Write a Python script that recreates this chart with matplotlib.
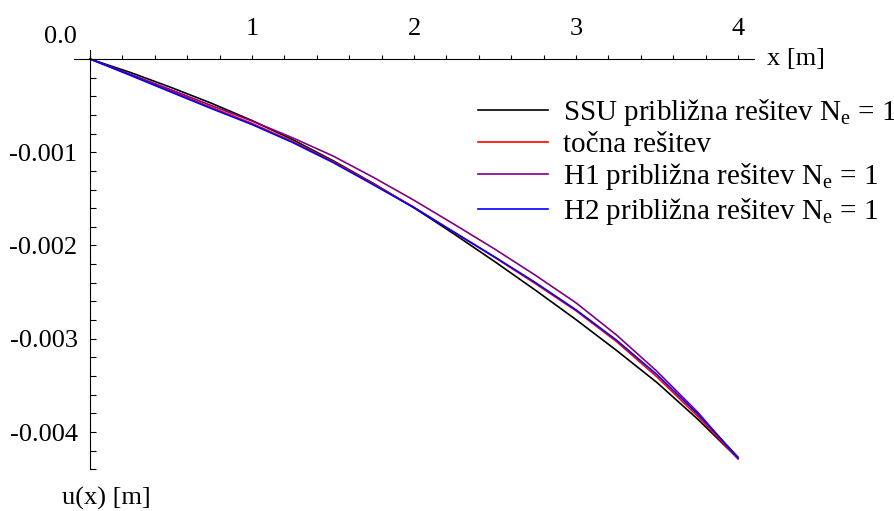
import matplotlib
matplotlib.use("Agg")
import matplotlib.pyplot as plt
from matplotlib.ticker import MultipleLocator

plt.rcParams["font.family"] = ["Liberation Serif", "DejaVu Serif"]
plt.rcParams["mathtext.fontset"] = "custom"
plt.rcParams["mathtext.rm"] = "Liberation Serif"
plt.rcParams["mathtext.it"] = "Liberation Serif:italic"
plt.rcParams["axes.unicode_minus"] = False

# Values (x in m, u in m).
x = [0.0, 0.25, 0.5, 0.75, 1.0, 1.25, 1.5, 1.75, 2.0,
     2.25, 2.5, 2.75, 3.0, 3.25, 3.5, 3.75, 4.0]

u_ssu = [0.0, -0.000145, -0.000305, -0.000475, -0.000660, -0.000865,
         -0.001090, -0.001335, -0.001595, -0.001880, -0.002175, -0.002480,
         -0.002795, -0.003125, -0.003470, -0.003860, -0.004285]

u_exact = [0.0, -0.000170, -0.000345, -0.000520, -0.000690, -0.000885,
           -0.001100, -0.001340, -0.001590, -0.001860, -0.002130, -0.002410,
           -0.002700, -0.003030, -0.003410, -0.003830, -0.004285]

u_h1 = [0.0, -0.000165, -0.000330, -0.000500, -0.000665, -0.000845,
        -0.001040, -0.001270, -0.001515, -0.001775, -0.002040, -0.002320,
        -0.002615, -0.002960, -0.003350, -0.003785, -0.004285]

u_h2 = [0.0, -0.000176, -0.000355, -0.000532, -0.000703, -0.000895,
        -0.001110, -0.001350, -0.001595, -0.001860, -0.002125, -0.002398,
        -0.002690, -0.003015, -0.003385, -0.003805, -0.004270]

x_ticks = [1, 2, 3, 4]
y_ticks = [-0.004, -0.003, -0.002, -0.001]
y_labels = ["-0.004", "-0.003", "-0.002", "-0.001"]

labels = ["SSU približna rešitev N$_\\mathrm{e}$ = 1",
          "točna rešitev",
          "H1 približna rešitev N$_\\mathrm{e}$ = 1",
          "H2 približna rešitev N$_\\mathrm{e}$ = 1"]
colors = ["black", "#ff0000", "#800080", "#0000ff"]

fs = 19
fs_leg = 21

fig = plt.figure(figsize=(8.95, 5.11), dpi=100)
ax = fig.add_axes([0.0825, 0.0816, 0.7602, 0.8212])

for u, lab, col in zip([u_ssu, u_exact, u_h1, u_h2], labels, colors):
    ax.plot(x, u, color=col, linewidth=1.2, label=lab)

ax.set_xlim(-0.1, 4.1)
ax.set_ylim(-0.0044, 0.0001)

# Maple style axes crossing at the origin
ax.spines["right"].set_visible(False)
ax.spines["bottom"].set_visible(False)
ax.spines["top"].set_position(("data", 0))
ax.spines["left"].set_position(("data", 0))
for s in ("top", "left"):
    ax.spines[s].set_linewidth(0.8)

ax.xaxis.set_ticks_position("top")
ax.set_xticks(x_ticks)
ax.xaxis.set_minor_locator(MultipleLocator(0.2))
ax.tick_params(axis="x", which="both", direction="out", length=3,
               width=0.8, labelsize=fs, pad=10.5)

ax.set_yticks(y_ticks)
ax.set_yticklabels(y_labels)
ax.yaxis.set_minor_locator(MultipleLocator(0.0002))
ax.tick_params(axis="y", which="both", direction="in", length=4,
               width=0.8, labelsize=fs, pad=9)

fig.text(77 / 895, 1 - 37 / 511, "0.0", fontsize=fs, ha="right", va="center")
fig.text(767 / 895, 1 - 59 / 511, "x [m]", fontsize=fs, ha="left", va="center")
fig.text(106 / 895, 1 - 505 / 511, "u(x) [m]", fontsize=fs, ha="center",
         va="baseline")

ax.legend(loc="upper left", bbox_to_anchor=(478 / 895, 1 - 97 / 511),
          bbox_transform=fig.transFigure, frameon=False, fontsize=fs_leg,
          handlelength=2.4, handletextpad=0.5, labelspacing=0.12,
          borderpad=0, borderaxespad=0)

fig.savefig("out.png", dpi=100)
